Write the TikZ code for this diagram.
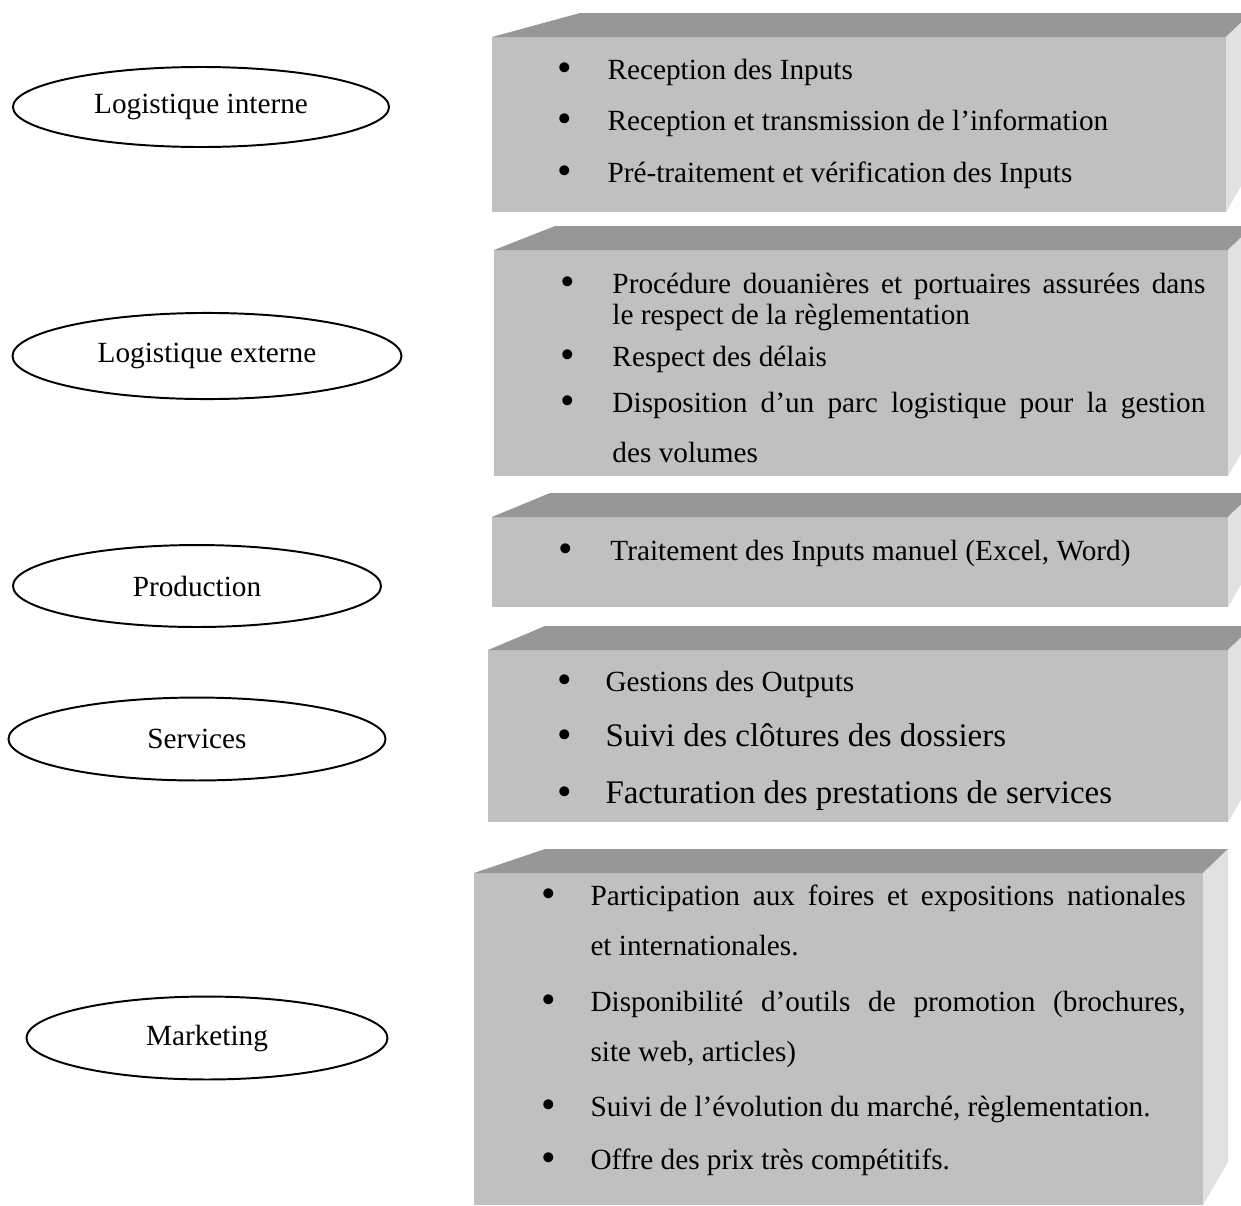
\documentclass[tikz,border=0pt]{standalone}
\usepackage{fontspec}
\setmainfont{Liberation Serif}
\usetikzlibrary{shapes.geometric}
\definecolor{facegray}{HTML}{C0C0C0}
\definecolor{topgray}{HTML}{979797}
\definecolor{sidegray}{HTML}{E1E1E1}

\begin{document}
\begin{tikzpicture}[x=0.41pt, y=-0.41pt,
	etape/.style={ellipse, draw=black, line width=0.8pt, fill=white,
		inner sep=0pt, font=\fontsize{12}{14}\selectfont},
	puce/.style={anchor=base, inner sep=0pt, font=\fontsize{17}{18}\selectfont},
	ligne/.style={anchor=base west, inner sep=0pt, font=\fontsize{12}{14}\selectfont},
	bloc/.style={anchor=base west, inner sep=0pt, align=justify},
	grand/.style={font=\fontsize{13.5}{16}\selectfont}]
				\useasboundingbox (0,0) rectangle (1241,1205);
				\clip (0,0) rectangle (1241,1205);
				% boites 3D
				\fill[facegray] (492,37) rectangle (1226,212);
				\fill[topgray] (492,37) -- (580,13) -- (1251,13) -- (1226,37) -- cycle;
				\fill[sidegray] (1226,37) -- (1251,13) -- (1251,169) -- (1226,212) -- cycle;
				\fill[facegray] (494,250) rectangle (1228,476);
				\fill[topgray] (494,250) -- (555,226) -- (1253,226) -- (1228,250) -- cycle;
				\fill[sidegray] (1228,250) -- (1253,226) -- (1253,433) -- (1228,476) -- cycle;
				\fill[facegray] (492,517) rectangle (1228,607);
				\fill[topgray] (492,517) -- (550,493) -- (1253,493) -- (1228,517) -- cycle;
				\fill[sidegray] (1228,517) -- (1253,493) -- (1253,564) -- (1228,607) -- cycle;
				\fill[facegray] (488,650) rectangle (1228,822);
				\fill[topgray] (488,650) -- (545,626) -- (1253,626) -- (1228,650) -- cycle;
				\fill[sidegray] (1228,650) -- (1253,626) -- (1253,779) -- (1228,822) -- cycle;
				\fill[facegray] (474,873) rectangle (1203,1205);
				\fill[topgray] (474,873) -- (545,849) -- (1228,849) -- (1203,873) -- cycle;
				\fill[sidegray] (1203,873) -- (1228,849) -- (1228,1162) -- (1203,1205) -- cycle;
				% activites
				\node (li) at (201,107) [etape, minimum width=154.2pt,
				minimum height=32.8pt] {Logistique interne};
				\node (le) at (207,356) [etape, minimum width=159.5pt,
				minimum height=35.3pt] {Logistique externe};
				\node (pr) at (197,586) [etape, minimum width=150.9pt,
				minimum height=33.6pt] {Production};
				\node (se) at (197,739) [etape, minimum width=154.6pt,
				minimum height=34pt] {Services};
				\node (ma) at (207,1038) [etape, minimum width=148pt,
				minimum height=34pt] {Marketing};
				% logistique interne
				\node (p11) at (565,81) [puce] {•};
				\node (t11) at (607,79) [ligne] {Reception des Inputs};
				\node (p12) at (565,132) [puce] {•};
				\node (t12) at (607,130) [ligne] {Reception et transmission de l’information};
				\node (p13) at (565,184) [puce] {•};
				\node (t13) at (607,182) [ligne] {Pré-traitement et vérification des Inputs};
				% logistique externe
				\node (p21) at (568,295) [puce] {•};
				\node (t21) at (612,293) [bloc, text width=243.1pt,
				font=\fontsize{12}{13.1}\selectfont] {Procédure douanières et
				portuaires assurées dans\linebreak le respect de la règlementation};
				\node (p22) at (568,368) [puce] {•};
				\node (t22) at (612,366) [ligne] {Respect des délais};
				\node (p23) at (568,414) [puce] {•};
				\node (t23) at (612,412) [bloc, text width=243.1pt,
				font=\fontsize{12}{20.9}\selectfont] {Disposition d’un parc
				logistique pour la gestion\linebreak des volumes};
				% production
				\node (p31) at (566,562) [puce] {•};
				\node (t31) at (610,560) [ligne] {Traitement des Inputs manuel (Excel, Word)};
				% services
				\node (p41) at (565,693) [puce] {•};
				\node (t41) at (605,691) [ligne] {Gestions des Outputs};
				\node (p42) at (565,748) [puce] {•};
				\node (t42) at (605,746) [ligne, grand] {Suivi des clôtures des dossiers};
				\node (p43) at (565,805) [puce] {•};
				\node (t43) at (605,803) [ligne, grand] {Facturation des prestations de services};
				% marketing
				\node (p51) at (549,907) [puce] {•};
				\node (t51) at (590,905) [bloc, text width=244pt,
				font=\fontsize{12}{20.9}\selectfont] {Participation aux foires et
				expositions nationales\linebreak et internationales.};
				\node (p52) at (549,1013) [puce] {•};
				\node (t52) at (590,1011) [bloc, text width=244pt,
				font=\fontsize{12}{20.9}\selectfont] {Disponibilité d’outils de
				promotion (brochures,\linebreak site web, articles)};
				\node (p53) at (549,1118) [puce] {•};
				\node (t53) at (590,1116) [ligne] {Suivi de l’évolution du marché, règlementation.};
				\node (p54) at (549,1171) [puce] {•};
				\node (t54) at (590,1169) [ligne] {Offre des prix très compétitifs.};
			\end{tikzpicture}
\end{document}
